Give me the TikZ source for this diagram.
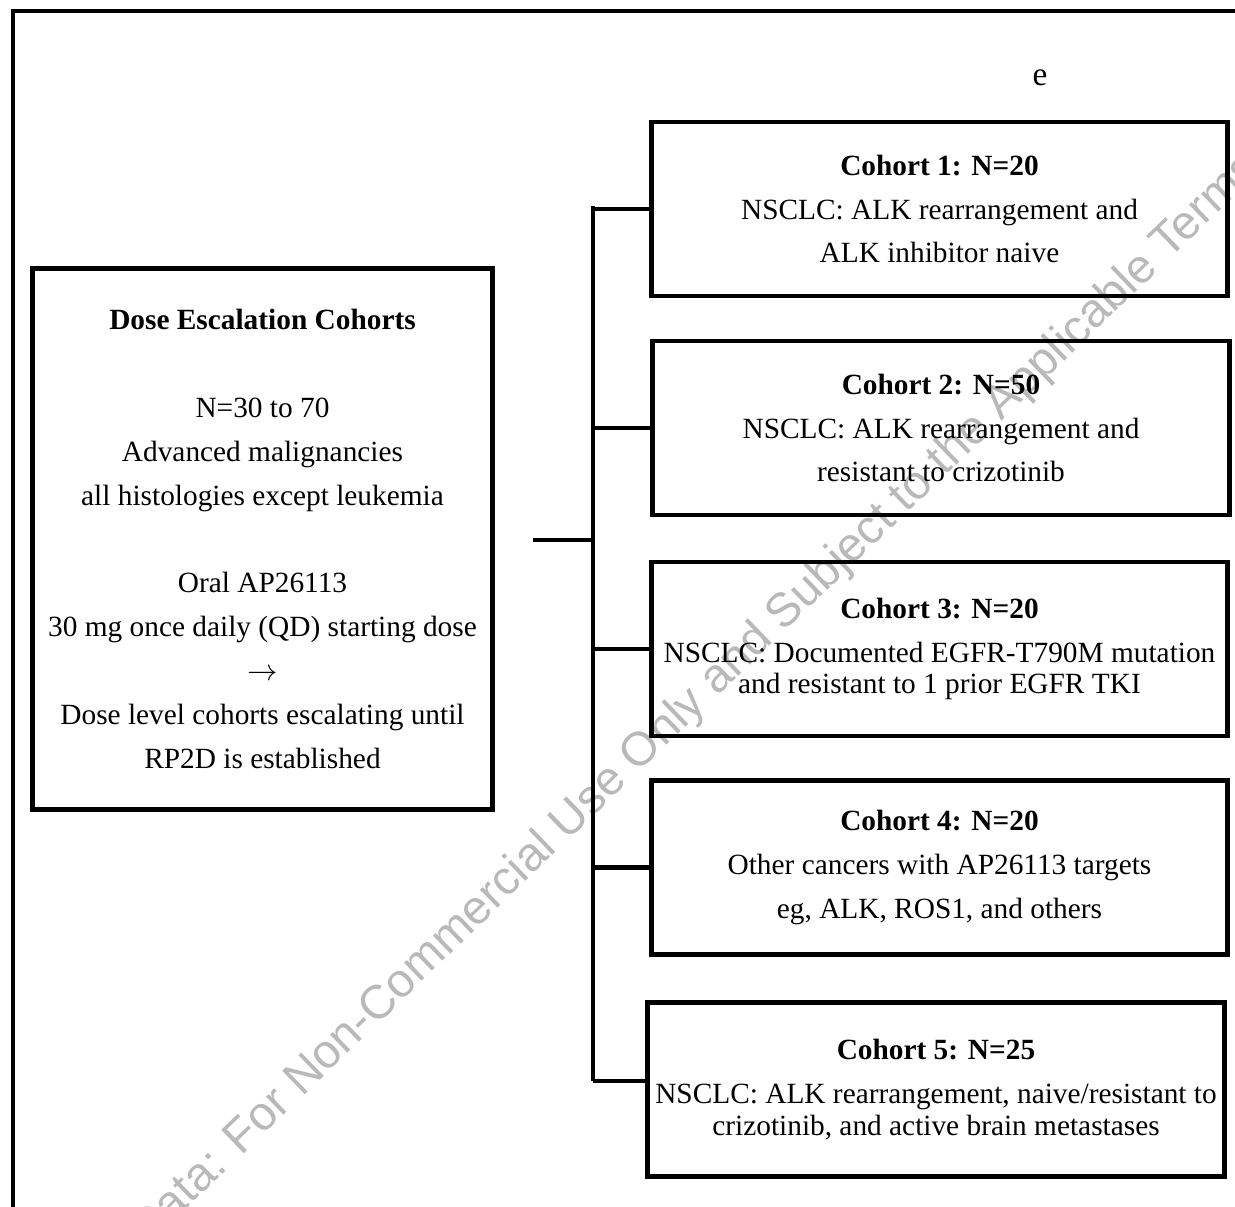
\documentclass[tikz,border=0pt]{standalone}
\usepackage{fontspec}
\setmainfont{Liberation Serif}
\newfontfamily\wmfont{Liberation Sans}
\usepackage{tikz}

\begin{document}
\begin{tikzpicture}[x=0.02cm,y=-0.02cm,
    cohortbox/.style={rectangle,draw=black,line width=2.8pt,minimum width=11.54cm,minimum height=3.48cm,align=center,font=\fontsize{16.7}{25}\selectfont,inner sep=0pt},
    link/.style={line width=2.8pt}]

      \useasboundingbox (0,0) rectangle (1235,1207);
      \clip (0,0) rectangle (1235,1207);

      \node[text=gray!55,font=\wmfont\fontsize{27}{30}\selectfont,rotate=44] (wm) at (696,700){Data: For Non-Commercial Use Only and Subject to the Applicable Terms};

      \draw[line width=2.2pt] (13,1230) -- (13,11) -- (1260,11);
      \node[font=\fontsize{19}{21}\selectfont] (stray) at (1040,78){e};

      \node[rectangle,draw=black,line width=2.8pt,minimum width=9.22cm,minimum height=10.84cm,align=center,font=\fontsize{16.7}{25}\selectfont,inner sep=0pt] (esc) at (262.5, 539){\textbf{Dose Escalation Cohorts}\\[25pt]
        N=30 to 70\\ Advanced malignancies\\ all histologies except leukemia\\[25pt]
        Oral AP26113\\ 30 mg once daily (QD) starting dose\\ $\rightarrow$\\
        Dose level cohorts escalating until\\ RP2D is established};

      \node[cohortbox] (c1) at (939.5, 209){\textbf{Cohort 1: N=20}\\ NSCLC: ALK rearrangement and\\ ALK inhibitor naive};
      \node[cohortbox] (c2) at (941, 428){\textbf{Cohort 2: N=50}\\ NSCLC: ALK rearrangement and\\ resistant to crizotinib};
      \node[cohortbox] (c3) at (939.5, 649){\textbf{Cohort 3: N=20}\\ NSCLC: Documented EGFR-T790M mutation\\[-7pt] and resistant to 1 prior EGFR TKI};
      \node[cohortbox] (c4) at (939.5, 867.5){\textbf{Cohort 4: N=20}\\ Other cancers with AP26113 targets\\ eg, ALK, ROS1, and others};
      \node[cohortbox] (c5) at (936, 1089.5){\textbf{Cohort 5: N=25}\\ NSCLC: ALK rearrangement, naive/resistant to\\[-7pt] crizotinib, and active brain metastases};

      \coordinate (top) at (593, 206);
      \coordinate (bot) at (593, 1081);
      \coordinate (stub) at (533, 540);

      \draw[link] (top) -- (bot);
      \draw[link] (stub) -- (stub -| top);
      \draw[link] (c1.west) -- (c1.west -| top);
      \draw[link] (c2.west) -- (c2.west -| top);
      \draw[link] (c3.west) -- (c3.west -| top);
      \draw[link] (c4.west) -- (c4.west -| top);
      \draw[link] (c5.west |- bot) -- (bot);

    \end{tikzpicture}
\end{document}
